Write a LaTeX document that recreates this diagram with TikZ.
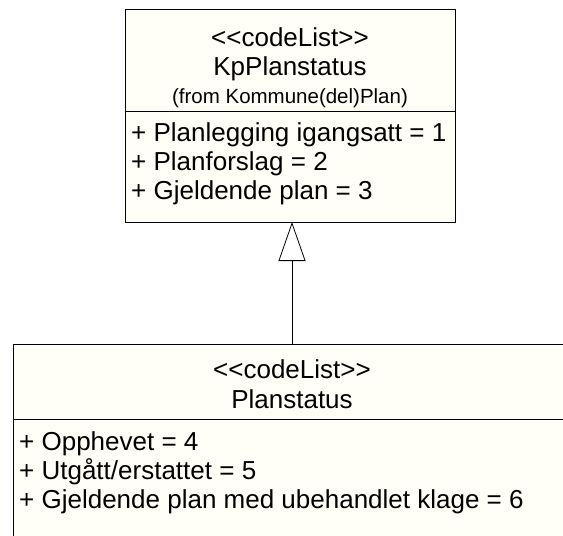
\documentclass[tikz,border=0pt]{standalone}
\usepackage{fontspec}
\setmainfont{Liberation Sans}
\usetikzlibrary{arrows.meta}
\definecolor{boxfill}{RGB}{255,255,247}
\begin{document}
\begin{tikzpicture}[x=1pt,y=-1pt,
  classbox/.style={draw=black, line width=0.8pt, fill=boxfill, inner sep=0pt},
  divider/.style={draw=black, line width=0.8pt},
  hdr/.style={inner sep=0pt, anchor=base, font=\fontsize{26}{30}\selectfont},
  fromtxt/.style={inner sep=0pt, anchor=base, font=\fontsize{20.5}{24}\selectfont},
  attr/.style={inner sep=0pt, anchor=base west, font=\fontsize{26}{30}\selectfont},
  gen/.style={draw=black, line width=0.8pt, -{Triangle[length=39pt,width=27pt,fill=white]}}]
\useasboundingbox (0,0) rectangle (563,536);
\clip (0,0) rectangle (563,536);
% top class
\node[classbox, minimum width=330pt, minimum height=213pt] (kp) at (290,115.5) {};
\coordinate (kpdl) at (125,111);
\coordinate (kpdr) at (455,111);
\draw[divider] (kpdl) -- (kpdr);
\node[hdr] (kps) at (290,46) {<{}<codeList>{}>};
\node[hdr] (kpn) at (290,75) {KpPlanstatus};
\node[fromtxt] (kpf) at (290,103) {(from Kommune(del)Plan)};
\node[attr] (kpa1) at (131,141) {+ Planlegging igangsatt = 1};
\node[attr] (kpa2) at (131,170) {+ Planforslag = 2};
\node[attr] (kpa3) at (131,199) {+ Gjeldende plan = 3};
% bottom class
\node[classbox, minimum width=558pt, minimum height=216pt] (ps) at (292,452) {};
\coordinate (psdl) at (13,419);
\coordinate (psdr) at (571,419);
\draw[divider] (psdl) -- (psdr);
\node[hdr] (pss) at (292,378) {<{}<codeList>{}>};
\node[hdr] (psn) at (292,408) {Planstatus};
\node[attr] (psa1) at (19,450) {+ Opphevet = 4};
\node[attr] (psa2) at (19,479) {+ Utgått/erstattet = 5};
\node[attr] (psa3) at (19,508) {+ Gjeldende plan med ubehandlet klage = 6};
% generalization
\coordinate (kpbot) at (292,222);
\draw[gen] (ps.north) -- (kpbot);
\end{tikzpicture}
\end{document}
